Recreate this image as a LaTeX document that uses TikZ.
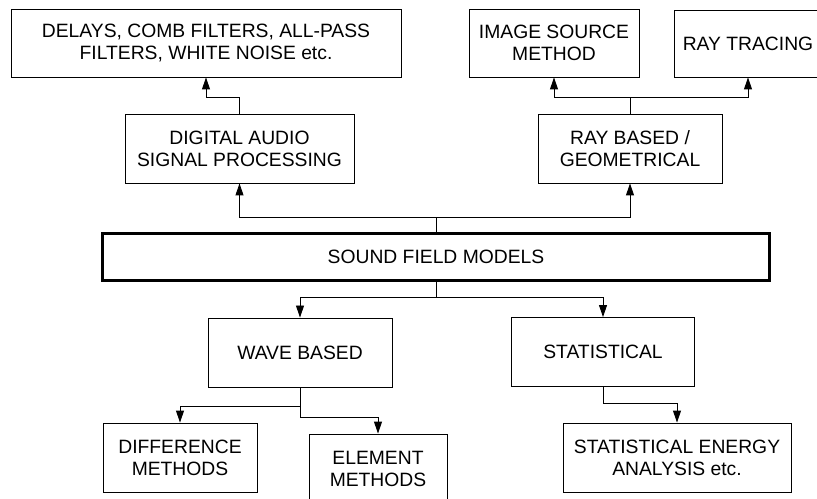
\documentclass[tikz,border=0pt]{standalone}
\usepackage{fontspec}
\setmainfont{Liberation Sans}
\usetikzlibrary{arrows.meta}
\begin{document}
\begin{tikzpicture}[x=1bp,y=-1bp,
  box/.style={draw=black,line width=0.9bp,align=center,inner sep=0pt,
    font=\fontsize{19.3bp}{22bp}\selectfont},
  arr/.style={draw=black,line width=0.9bp,-{Triangle[length=12bp,width=8bp]}},
  ln/.style={draw=black,line width=0.9bp}]
\useasboundingbox (0,0) rectangle (817,499);
\node[box,minimum width=390bp,minimum height=68bp] (delays) at (206,43) {DELAYS, COMB FILTERS, ALL-PASS\\FILTERS, WHITE NOISE etc.};
\node[box,minimum width=229bp,minimum height=69bp] (dsp) at (239.5,148.5) {DIGITAL AUDIO\\SIGNAL PROCESSING};
\node[box,minimum width=170bp,minimum height=68bp] (ism) at (554,43) {IMAGE SOURCE\\METHOD};
\node[box,minimum width=148bp,minimum height=67bp] (rt) at (748,43.5) {RAY TRACING};
\node[box,minimum width=184bp,minimum height=69bp] (rb) at (630,148.5) {RAY BASED /\\GEOMETRICAL};
\node[box,line width=3bp,minimum width=666bp,minimum height=46bp] (sfm) at (436,257) {SOUND FIELD MODELS};
\node[box,minimum width=184bp,minimum height=69bp] (wave) at (300,352.5) {WAVE BASED};
\node[box,minimum width=183bp,minimum height=69bp] (stat) at (603,352) {STATISTICAL};
\node[box,minimum width=154bp,minimum height=69bp] (diff) at (180,457.5) {DIFFERENCE\\METHODS};
\node[box,minimum width=138bp,minimum height=69bp] (elem) at (378,468.5) {ELEMENT\\METHODS};
\node[box,minimum width=228bp,minimum height=69bp] (sea) at (677,457.5) {STATISTICAL ENERGY\\ANALYSIS etc.};
% top-left branch
\coordinate (j1) at (dsp.north |- 0,97);
\draw[arr] (dsp.north) -- (j1) -| (delays.south);
% top-right branch
\coordinate (j2) at (rb.north |- 0,97);
\draw[ln] (rb.north) -- (j2);
\draw[arr] (j2) -| (ism.south);
\draw[arr] (j2) -| (rt.south);
% from sound field models up
\coordinate (j3) at (sfm.north |- 0,217);
\draw[ln] (sfm.north) -- (j3);
\draw[arr] (j3) -| (dsp.south);
\draw[arr] (j3) -| (rb.south);
% from sound field models down
\coordinate (j4) at (sfm.south |- 0,297);
\draw[ln] (sfm.south) -- (j4);
\draw[arr] (j4) -| (wave.north);
\draw[arr] (j4) -| (stat.north);
% wave based children
\coordinate (j5) at (wave.south |- 0,406);
\coordinate (j6) at (wave.south |- 0,417);
\draw[ln] (wave.south) -- (j6);
\draw[arr] (j5) -| (diff.north);
\draw[arr] (j6) -| (elem.north);
% statistical child
\coordinate (j7) at (stat.south |- 0,403);
\draw[arr] (stat.south) -- (j7) -| (sea.north);
\end{tikzpicture}
\end{document}
